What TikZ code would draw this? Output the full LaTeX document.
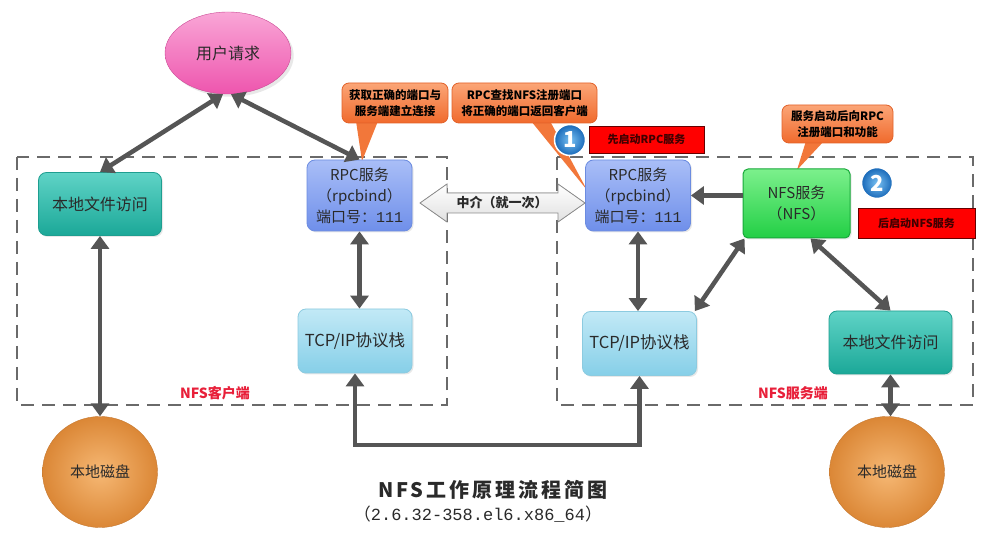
\documentclass[tikz,border=0pt]{standalone}
\usepackage{fontspec}
\setmainfont{Noto Sans CJK SC}
\newfontfamily\monof{Liberation Mono}
\newfontfamily\titlef[LetterSpace=15]{Noto Sans CJK SC}
\usetikzlibrary{arrows.meta,shapes.geometric,shadows}
\definecolor{arrgray}{HTML}{555555}
\definecolor{dashgray}{HTML}{6A6A6A}
\definecolor{rpcTop}{HTML}{A9BEF7}
\definecolor{rpcBot}{HTML}{6F8FEA}
\definecolor{rpcLine}{HTML}{6C8CE0}
\definecolor{tcpTop}{HTML}{C2E9F6}
\definecolor{tcpBot}{HTML}{86CFE8}
\definecolor{tcpLine}{HTML}{8CCBE0}
\definecolor{fileTop}{HTML}{5FD3C6}
\definecolor{fileBot}{HTML}{1BA898}
\definecolor{fileLine}{HTML}{1E9E90}
\definecolor{nfsTop}{HTML}{7CF08C}
\definecolor{nfsBot}{HTML}{22CF45}
\definecolor{nfsLine}{HTML}{18A83A}
\definecolor{pinkTop}{HTML}{F9A6D6}
\definecolor{pinkBot}{HTML}{EE55AE}
\definecolor{diskIn}{HTML}{F6B874}
\definecolor{diskOut}{HTML}{DB8736}
\definecolor{callTop}{HTML}{FBA577}
\definecolor{callBot}{HTML}{F06A2C}
\definecolor{callLine}{HTML}{E2622A}
\definecolor{callTail}{HTML}{F2773A}
\definecolor{redbox}{HTML}{FF0000}
\definecolor{labelred}{HTML}{E8203A}
\definecolor{badgeIn}{HTML}{78C0F2}
\definecolor{badgeOut}{HTML}{1868B8}
\definecolor{txt}{HTML}{2A2A2A}
\tikzset{
  basebox/.style={rectangle, rounded corners=8pt, align=center, text=txt,
    font=\fontsize{15}{21}\selectfont, inner sep=2pt,
    drop shadow={opacity=0.18, shadow xshift=1.5pt, shadow yshift=-1.5pt}},
  rpcbox/.style={basebox, draw=rpcLine, line width=0.8pt, top color=rpcTop, bottom color=rpcBot,
    minimum width=105pt, minimum height=71pt},
  tcpbox/.style={basebox, draw=tcpLine, line width=0.8pt, top color=tcpTop, bottom color=tcpBot,
    minimum width=114pt, minimum height=64pt, font=\fontsize{16.5}{21}\selectfont},
  filebox/.style={basebox, draw=fileLine, line width=0.8pt, top color=fileTop, bottom color=fileBot,
    minimum width=123pt, minimum height=63pt, font=\fontsize{16}{21}\selectfont},
  nfsbox/.style={basebox, rounded corners=5pt, draw=nfsLine, line width=1pt, top color=nfsTop, bottom color=nfsBot,
    minimum width=107pt, minimum height=69pt},
  disk/.style={ellipse, minimum width=115pt, minimum height=111pt, inner color=diskIn, outer color=diskOut,
    draw=diskOut!90!black, line width=0.4pt, text=txt, font=\fontsize{15}{18}\selectfont},
  callbox/.style={rectangle, rounded corners=7pt, draw=callLine, line width=0.8pt,
    top color=callTop, bottom color=callBot, align=center, text=black,
    font=\bfseries\fontsize{11.5}{16}\selectfont, inner sep=2pt},
  redtag/.style={rectangle, fill=redbox, draw=black!60!red, line width=0.5pt, text=black!75!red,
    font=\bfseries\fontsize{11}{12}\selectfont, inner sep=2pt},
  badge/.style={circle, inner color=badgeIn, outer color=badgeOut, draw=white, line width=1.5pt,
    minimum size=31pt, inner sep=0pt, text=white, font=\bfseries\fontsize{22}{22}\selectfont},
  dashbox/.style={draw=dashgray, line width=1.6pt, dash pattern=on 13pt off 8pt},
  dbl/.style={arrows={Triangle[width=18pt,length=13pt]-Triangle[width=18pt,length=13pt]},
    line width=4.5pt, draw=arrgray},
  sgl/.style={arrows={-Triangle[width=18pt,length=13pt]}, line width=4.5pt, draw=arrgray},
  sidelabel/.style={text=labelred, font=\bfseries\fontsize{14}{16}\selectfont},
}
\begin{document}
\begin{tikzpicture}[x=1pt,y=-1pt]
\useasboundingbox[fill=white] (0,0) rectangle (983,545);

% dashed regions
\draw[dashbox] (17,157) rectangle (447,405);
\draw[dashbox] (557,157) rectangle (973,405);

% callout tails
\fill[callTail] (356,121) -- (378,121) -- (362,161) -- cycle;
\fill[callTail] (531,121) -- (550,121) -- (587,190) -- cycle;
\fill[callTail] (806,141) -- (824,141) -- (797,170) -- cycle;

% nodes
\node[ellipse, minimum width=126pt, minimum height=82pt, top color=pinkTop, bottom color=pinkBot,
      draw=pinkBot!85!black, line width=0.4pt, text=txt, font=\fontsize{16}{18}\selectfont,
      drop shadow={opacity=0.18}] (user) at (228,53) {用户请求};

\node[filebox] (lfile) at (100,204) {本地文件访问};
\node[rpcbox] (lrpc) at (359.5,195.5) {RPC服务\\（rpcbind）\\端口号：{\monof 111}};
\node[tcpbox] (ltcp) at (355,341) {TCP/IP协议栈};
\node[disk] (ldisk) at (100,472) {本地磁盘};

\node[rpcbox] (rrpc) at (638,195.5) {RPC服务\\（rpcbind）\\端口号：{\monof 111}};
\node[tcpbox] (rtcp) at (639.5,343.5) {TCP/IP协议栈};
\node[nfsbox] (nfs) at (796.5,203.5) {NFS服务\\（NFS）};
\node[filebox] (rfile) at (890.5,342.5) {本地文件访问};
\node[disk] (rdisk) at (887,472) {本地磁盘};

% callouts
\node[callbox, minimum width=106pt, minimum height=40pt] (c1) at (395,103) {获取正确的端口与\\服务端建立连接};
\node[callbox, minimum width=145pt, minimum height=40pt] (c2) at (524.5,103) {RPC查找NFS注册端口\\将正确的端口返回客户端};
\node[callbox, minimum width=111pt, minimum height=38pt] (c3) at (837.5,124) {服务启动后向RPC\\注册端口和功能};

% badges and tags
\node[badge] (b1) at (570,140) {1};
\node[redtag, minimum width=115pt, minimum height=27pt] (t1) at (646.5,139.5) {先启动RPC服务};
\node[badge] (b2) at (877,183) {2};
\node[redtag, minimum width=117pt, minimum height=30pt] (t2) at (916.5,223) {后启动NFS服务};

% middle fat double arrow
\filldraw[draw=black!45, line width=0.8pt, top color=white, bottom color=black!12]
  (420,203) -- (447,184) -- (447,193) -- (558,193) -- (558,184) -- (585,203)
  -- (558,222) -- (558,213) -- (447,213) -- (447,222) -- cycle;
\node[font=\bfseries\fontsize{13}{15}\selectfont, text=txt] (mid) at (502,203) {中介（就一次）};

% side labels
\node[sidelabel] (clab) at (215,393) {NFS客户端};
\node[sidelabel] (slab) at (793,393) {NFS服务端};

% connectors
\draw[dbl] ([xshift=-5pt]user.south) -- (lfile.north);
\draw[dbl] ([xshift=3pt]user.south) -- (lrpc.north);
\draw[dbl] (lfile.south) -- (ldisk.north);
\draw[dbl] (lrpc.south) -- (lrpc.south |- ltcp.north);
\draw[dbl] (rrpc.south) -- (rrpc.south |- rtcp.north);
\draw[sgl] (nfs.west |- rrpc.east) -- (rrpc.east);
\draw[dbl] ([xshift=2pt]nfs.south west) -- ([xshift=-2pt]rtcp.north east);
\draw[dbl] ([xshift=14pt]nfs.south) -- (rfile.north);
\draw[dbl] (rfile.south) -- (rfile.south |- rdisk.north);
\draw[dbl] (ltcp.south) -- (ltcp.south |- 0,445) -| (rtcp.south);

% title
\node[font=\titlef\bfseries\fontsize{20}{24}\selectfont, text=txt] (title) at (493,490) {NFS工作原理流程简图};
\node[font=\fontsize{17}{20}\selectfont, text=txt] (sub) at (478,514) {（{\monof 2.6.32-358.el6.x86\_64}）};
\end{tikzpicture}
\end{document}
